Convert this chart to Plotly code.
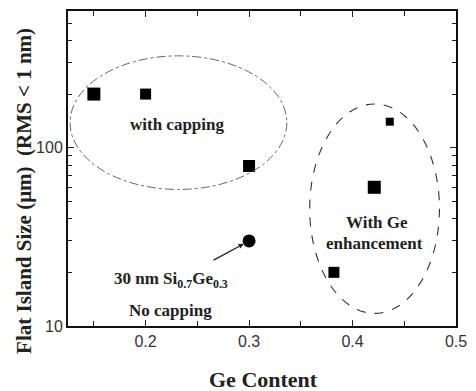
import plotly.graph_objects as go

# Data
capped_ge = [0.15, 0.2, 0.3, 0.436, 0.421, 0.382]
capped_size = [200, 200, 79, 140, 60, 20]
nocap_ge = [0.3]
nocap_size = [30]

x_tickvals = [0.2, 0.3, 0.4, 0.5]
x_ticktext = ["0.2", "0.3", "0.4", "0.5"]
y_tickvals = [10, 100]
y_ticktext = ["10", "100"]
y_minor_vals = [20, 30, 40, 50, 60, 70, 80, 90, 200, 300, 400, 500]

marker_sizes = [13, 11, 12, 8, 13, 11]

SERIF = "Liberation Serif"
SANS = "Liberation Sans"

fig = go.Figure()
for gx, gy, ms in zip(capped_ge, capped_size, marker_sizes):
    fig.add_trace(go.Scatter(x=[gx], y=[gy], mode="markers",
                             marker=dict(symbol="square", size=ms, color="#000000", opacity=1,
                                         line=dict(width=0)),
                             showlegend=False, hoverinfo="skip"))
fig.add_trace(go.Scatter(x=nocap_ge, y=nocap_size, mode="markers",
                         marker=dict(symbol="circle", size=13, color="#000000", line=dict(width=0)),
                         showlegend=False, hoverinfo="skip"))

# Ellipses
fig.add_shape(type="circle", xref="x", yref="paper", x0=0.127, x1=0.3365, y0=0.4335, y1=0.8576,
              line=dict(color="#666", width=1, dash="dashdot"))
fig.add_shape(type="circle", xref="x", yref="paper", x0=0.3586, x1=0.484, y0=0.040, y1=0.705,
              line=dict(color="#333", width=1.1, dash="dash"))

tf = dict(family=SERIF, size=17, color="#222")
def txt(x, y, s):
    fig.add_annotation(x=x, y=y, xref="x", yref="paper", text=s, showarrow=False,
                       xanchor="center", yanchor="middle", font=tf)

txt(0.2305, 0.640, "<b>with capping</b>")
txt(0.4235, 0.328, "<b>With Ge</b>")
txt(0.4215, 0.262, "<b>enhancement</b>")
txt(0.2245, 0.145, "<b>30 nm Si<sub>0.7</sub>Ge<sub>0.3</sub></b>")
txt(0.2245, 0.050, "<b>No capping</b>")

# arrow to circle point
fig.add_annotation(x=nocap_ge[0], y=1.477, xref="x", yref="y", text="",
                   showarrow=True, ax=-37, ay=20, arrowhead=2, arrowsize=0.8,
                   arrowwidth=1.3, arrowcolor="#222", standoff=6)

# Axis titles as annotations
fig.add_annotation(x=-0.115, y=0.43, xref="paper", yref="paper",
                   text="<b>Flat Island Size (μm)  (RMS < 1 nm)</b>", textangle=-90,
                   xanchor="center", yanchor="middle",
                   showarrow=False, font=dict(family=SERIF, size=21, color="#222"))
fig.add_annotation(x=0.504, y=-0.170, xref="paper", yref="paper",
                   text="<b>Ge Content</b>", xanchor="center", yanchor="middle",
                   showarrow=False, font=dict(family=SERIF, size=22, color="#222"))

fig.update_xaxes(range=[0.125, 0.5], tickvals=x_tickvals, ticktext=x_ticktext,
                 ticks="inside", ticklen=6, tickwidth=1.3, tickcolor="#222",
                 minor=dict(dtick=0.05, tick0=0.0, ticks="inside", ticklen=5, tickwidth=1.3,
                            tickcolor="#222", showgrid=False),
                 showline=True, linecolor="#111", linewidth=2, mirror="ticks",
                 showgrid=False, zeroline=False,
                 tickfont=dict(family=SANS, size=16, color="#333"))
fig.update_yaxes(type="log", range=[1, 2.767], tickvals=y_tickvals, ticktext=y_ticktext,
                 ticks="inside", ticklen=6, tickwidth=1.3, tickcolor="#222",
                 minor=dict(tickvals=y_minor_vals, ticks="inside", ticklen=4, tickwidth=1.3,
                            tickcolor="#222", showgrid=False),
                 showline=True, linecolor="#111", linewidth=2, mirror="ticks",
                 showgrid=False, zeroline=False,
                 tickfont=dict(family=SANS, size=16, color="#333"))

fig.update_layout(width=476, height=391, margin=dict(l=68, r=14, t=9, b=65),
                  plot_bgcolor="white", paper_bgcolor="white", hovermode=False)

fig.write_html("out.html", config={"displayModeBar": False},
               post_script="document.body.style.margin='0';document.body.style.overflow='hidden';")
